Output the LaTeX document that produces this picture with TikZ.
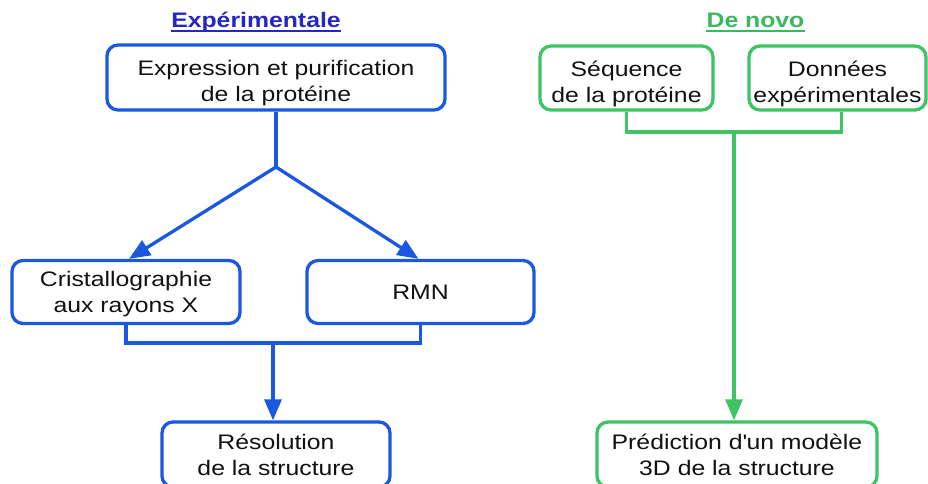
\documentclass[tikz,border=0pt]{standalone}
\usepackage{fontspec}
\setmainfont[FakeStretch=1.18]{Liberation Sans}
\usetikzlibrary{arrows.meta}
\definecolor{boxblue}{HTML}{1A58E0}
\definecolor{titleblue}{HTML}{2626C4}
\definecolor{boxgreen}{HTML}{3EC463}
\definecolor{titlegreen}{HTML}{3AB85E}
\definecolor{txt}{HTML}{111111}
\newcommand\boxline[1]{\raisebox{0pt}[15pt][0pt]{#1}}
\newcommand\tallline[1]{\raisebox{0pt}[23pt][0pt]{#1}}
\tikzset{
  every node/.style={font=\fontsize{21}{26}\selectfont, text=txt},
  procbox/.style={draw, line width=3.3pt, rounded corners=11pt, fill=white, inner sep=0pt, align=center},
  bluebox/.style={procbox, draw=boxblue},
  greenbox/.style={procbox, draw=boxgreen},
  bluelink/.style={draw=boxblue, line width=3.3pt},
  greenlink/.style={draw=boxgreen, line width=3.3pt},
  bluearrow/.style={bluelink, -{Triangle[length=21pt,width=17pt]}, fill=boxblue},
  greenarrow/.style={greenlink, -{Triangle[length=21pt,width=17pt]}, fill=boxgreen},
  titletext/.style={font=\fontsize{21}{26}\selectfont\bfseries, inner sep=0pt, anchor=base}
}
\begin{document}
\begin{tikzpicture}[x=1pt,y=-1pt]
\clip (0,0) rectangle (928,484);
\fill[white] (0,0) rectangle (928,484);
% titles
\node[titletext, text=titleblue] (t1) at (256,28) {Expérimentale};
\draw[titleblue, line width=1.8pt] ([yshift=-3pt]t1.base west) -- ([yshift=-3pt]t1.base east);
\node[titletext, text=titlegreen] (t2) at (755.5,28) {De novo};
\draw[titlegreen, line width=1.8pt] ([yshift=-3pt]t2.base west) -- ([yshift=-3pt]t2.base east);
% blue side
\node[bluebox, minimum width=338pt, minimum height=65pt] (expr) at (276,77.5) {\tallline{Expression et purification}\\\boxline{de la protéine}};
\node[bluebox, minimum width=228pt, minimum height=63pt] (crist) at (126,292) {\boxline{Cristallographie}\\\boxline{aux rayons X}};
\node[bluebox, minimum width=227pt, minimum height=63pt] (rmn) at (420.5,292) {\boxline{RMN}};
\node[bluebox, minimum width=228pt, minimum height=65pt] (resol) at (276,454.5) {\boxline{Résolution}\\\boxline{de la structure}};
\coordinate (bsplit) at (276,167);
\coordinate (bjoin) at (273,343);
\draw[bluelink] (expr.south) -- (bsplit);
\draw[bluearrow] (bsplit) -- ([xshift=3pt]crist.north);
\draw[bluearrow] (bsplit) -- ([xshift=-2pt]rmn.north);
\draw[bluelink, line join=miter] (crist.south) |- (bjoin) -| (rmn.south);
\draw[bluearrow] (bjoin) -- (bjoin |- resol.north);
% green side
\node[greenbox, minimum width=173pt, minimum height=64pt] (seq) at (626.5,78) {\tallline{Séquence}\\\boxline{de la protéine}};
\node[greenbox, minimum width=177pt, minimum height=64pt] (don) at (837.5,78) {\tallline{Données}\\\boxline{expérimentales}};
\node[greenbox, minimum width=280pt, minimum height=65pt] (pred) at (737,454.5) {\boxline{Prédiction d\textquotesingle un modèle}\\\boxline{3D de la structure}};
\coordinate (gjoin) at (734,132);
\draw[greenlink, line join=miter] (seq.south) |- (gjoin) -| ([xshift=4pt]don.south);
\draw[greenarrow] (gjoin) -- (gjoin |- pred.north);
\end{tikzpicture}
\end{document}
